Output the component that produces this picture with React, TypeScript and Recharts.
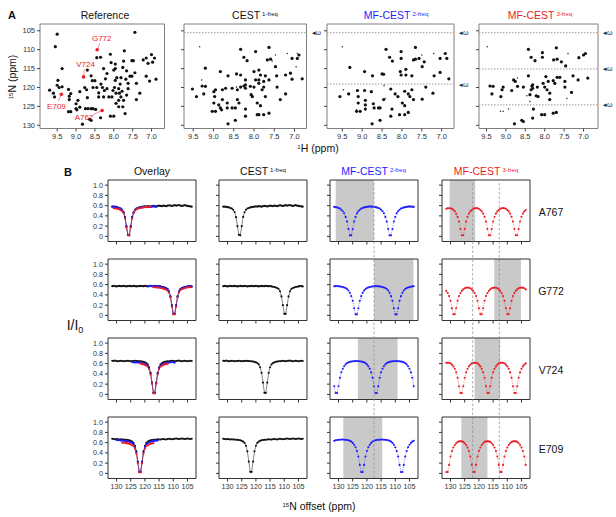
import React from 'react';
import {
  ScatterChart,
  Scatter,
  LineChart,
  Line,
  XAxis,
  YAxis,
  ReferenceArea,
  ReferenceLine,
  ReferenceDot
} from 'recharts';

// ---------- panel A: 1H-15N spectra (ppm) ----------
const REF_PEAKS = [
  [9.5, 105.9], [9.55, 109.2], [9.37, 115], [9.48, 118.1], [9.5, 119.4], [9.45, 120], [9.37, 119.8], [9.7, 120.7], [9.6, 121.5], [9.57, 122.5],
  [9.2, 120.5], [9.14, 121.6], [9.18, 122.3], [9.18, 123.2], [9.2, 126.4], [9.14, 126.4], [9.0, 125.6], [9.0, 124.3], [8.95, 123.4], [8.98, 125.9],
  [8.9, 125.2], [8.83, 129.7], [8.75, 125.6], [8.7, 122.7], [8.68, 125.6], [8.64, 128.4], [8.6, 128.7], [8.6, 125.6], [8.9, 121.1], [8.77, 120],
  [8.72, 120.6], [8.6, 116.9], [8.57, 118.2], [8.5, 118.2], [8.45, 112.1], [8.45, 120], [8.4, 121.4], [8.4, 122.5], [8.34, 119.1], [8.35, 128],
  [8.27, 122.5], [8.25, 120.8], [8.18, 120.3], [8.22, 117.7], [8.18, 116.3], [8.09, 111.2], [8.07, 113.4], [8.09, 127.6], [8.0, 127.6], [8.0, 115.4],
  [7.96, 115], [7.96, 118.1], [7.98, 120], [7.92, 117.4], [7.87, 120.3], [7.85, 121.5], [7.83, 119.1], [7.81, 117.4], [7.78, 121], [7.81, 122.5],
  [7.87, 123.4], [7.74, 123.4], [7.76, 125.1], [7.7, 126.9], [7.74, 113], [7.72, 110.3], [7.76, 114.7], [7.68, 117.8], [7.66, 115.6], [7.62, 120.3],
  [7.66, 122], [7.52, 112.9], [7.48, 112.9], [7.44, 105.4], [7.44, 116.1], [7.4, 118.9], [7.4, 123.2], [7.31, 121.5], [7.22, 112.7], [7.14, 112.2],
  [7.09, 113.6], [7.14, 117], [7.05, 118.3], [7.0, 111.3], [6.92, 112.2], [6.88, 117.8], [6.97, 113.3], [7.52, 117], [7.96, 113.8], [8.27, 115],
  [8.35, 112], [8.7, 115.4], [8.55, 120], [8.3, 120], [8.13, 122.5], [8.05, 122.5], [8.02, 120.8], [7.94, 121.5], [7.94, 124.2], [7.87, 125.1],
  [7.62, 118.9], [7.57, 117], [8.55, 125.6], [8.48, 125.8]
];
const HIT_NAMES = ['G772', 'V724', 'E709', 'A767'];
const HIT_PEAKS = [[8.44, 110], [8.8, 117.2], [9.39, 121.8], [8.31, 126.1]];
const HIT_LABEL_AT = [[8.32, 106.9], [8.75, 113.8], [9.52, 124.9], [8.79, 127.8]];
const HIT_LEADER_FROM = [[8.37, 108.3], [8.78, 115.2], [9.47, 123.6], [8.55, 127.2]];

const CEST_PEAKS = [
  [8.33, 109.9], [7.96, 110.5], [7.63, 109.4], [8.17, 112.9], [8.25, 112], [7.67, 112.7], [7.59, 112.5], [9.2, 114.9], [8.83, 115.8], [8.64, 116.9],
  [8.43, 116.4], [8.33, 116.7], [8.0, 115.8], [7.88, 115.4], [7.84, 116.7], [7.72, 116.9], [7.63, 118], [7.76, 118.4], [7.88, 118], [8.21, 118],
  [8.21, 119.3], [8.21, 120.2], [8.25, 119.6], [8.33, 119.9], [7.76, 119.9], [7.8, 120.6], [7.72, 122.4], [7.44, 116.9], [7.43, 119.9], [7.47, 114.5],
  [7.22, 116.7], [7.1, 116.2], [7.06, 117.8], [6.81, 117.7], [6.93, 112.3], [6.89, 111.4], [7.06, 112.3], [7.35, 123.2], [7.22, 121.7], [9.52, 120.4],
  [9.42, 122.4], [9.28, 119.6], [9.2, 119.7], [9.24, 121.7], [8.99, 121.1], [8.95, 120.6], [8.97, 122.4], [8.99, 124.1], [9.03, 126.3], [8.95, 126.3],
  [8.83, 125.4], [8.8, 125.9], [8.87, 124.6], [8.78, 123.2], [8.66, 124.1], [8.66, 125.4], [8.54, 125.4], [8.46, 125.4], [8.41, 123.2], [8.37, 124.1],
  [8.21, 125.7], [8.21, 127.6], [8.07, 121.9], [8.04, 122.4], [7.92, 124.1], [7.84, 124.8], [7.92, 127.2], [7.88, 127.2], [7.76, 127.2], [7.63, 126.8],
  [8.64, 129.6], [8.46, 128.7], [8.78, 120.6], [8.7, 120.2], [8.54, 120.2], [8.41, 120.6], [8.09, 119.7], [8.0, 119.9], [7.96, 118], [7.88, 118.9]
];
const CEST_WEAK = [[9.34, 109.2], [6.93, 111], [7.18, 111], [7.47, 111.4], [9.29, 118], [8.43, 119.9], [6.96, 114.5], [7.55, 113]];

const MF2_PEAKS = [
  [8.4, 109.9], [8.02, 110.5], [7.66, 109.4], [8.31, 112], [8.24, 113], [8.02, 112.3], [7.71, 112.7], [7.66, 112.5], [7.57, 112.3], [7.44, 113.2],
  [9.31, 114.7], [8.94, 115.8], [8.74, 116.9], [8.5, 116.4], [8.46, 116.5], [8.04, 115.8], [7.9, 115.2], [8.02, 116.7], [7.9, 116.7], [7.75, 116.9],
  [7.49, 114.5], [7.19, 116.9], [7.04, 116], [6.82, 117.7], [7.04, 112.3], [6.87, 112.3], [6.91, 111],
  [9.56, 122.4], [9.34, 121.7], [9.12, 120.8], [9.1, 122.4], [9.1, 124.1], [9.14, 126.3], [9.05, 126.3], [8.92, 125.7], [8.92, 123.4],
  [8.92, 124.6], [8.72, 124.3], [8.7, 125.4], [8.59, 125.4], [8.55, 125.4], [8.46, 123.2], [8.28, 120.4], [8.25, 125.7], [8.28, 127.6], [8.17, 121.7],
  [8.1, 122.4], [7.99, 124.1], [7.93, 124.8], [8.06, 127.2], [7.93, 127.2], [7.84, 126.6], [7.93, 121], [7.84, 121.7], [7.8, 122.4], [7.71, 123.2],
  [7.75, 120.6], [7.49, 123.1], [7.4, 119.9], [7.22, 121.5], [8.75, 129.6], [8.55, 128.7], [8.94, 120.8], [8.77, 121.1]
];
const MF2_WEAK = [[9.5, 109.2], [9.14, 125.9], [9.47, 120.6], [8.42, 122.9], [7.2, 111], [7.5, 111.4], [8.45, 119.5]];

const MF3_PEAKS = [
  [8.42, 109.9], [8.06, 110.8], [7.7, 109.5], [8.35, 112], [8.25, 112.9], [8.06, 112], [7.77, 112.7], [7.68, 112.5], [7.57, 113.2], [7.46, 114.3],
  [7.12, 112.1], [6.95, 111], [7.0, 111.4],
  [9.41, 119.6], [9.33, 119.7], [9.36, 121.7], [9.07, 119.9], [9.1, 120.6], [9.13, 122.4], [8.85, 120.8], [8.8, 118], [8.76, 118.4], [8.7, 119.7],
  [8.55, 119.9], [8.42, 116.9], [8.33, 119.6], [8.31, 119.3], [8.31, 120.2], [8.35, 120.6], [8.38, 121.9], [8.22, 122.2], [8.17, 122.4], [8.19, 119.9],
  [8.04, 118.9], [8.0, 119.9], [7.97, 117.1], [7.94, 120.6], [7.87, 121.5], [7.87, 123.2], [7.91, 118.4], [7.78, 118.2], [7.74, 118.9], [7.68, 117.3],
  [7.61, 117.3], [7.48, 118.4], [7.48, 119.9], [7.27, 116.9], [7.14, 118], [6.89, 117.5], [7.31, 121.3],
  [8.29, 125.7], [8.31, 128.1], [8.59, 128.7], [8.55, 129], [8.78, 129.6], [8.08, 127.2], [8.0, 127.2], [7.78, 126.8], [7.7, 126.6]
];
const MF3_WEAK = [[9.48, 109.2], [9.14, 126.3], [9.07, 126.3], [8.93, 125.7], [7.43, 122.9], [8.38, 123.7], [8.46, 122.2], [7.4, 111], [8.7, 117.5]];

const CEST_GUIDES = [105.5];
const MF2_GUIDES = [105.5, 119.1];
const MF3_GUIDES = [105.5, 115.1, 124.6];

const A_XTICKS = [9.5, 9.0, 8.5, 8.0, 7.5, 7.0];
const A_YTICKS = [105, 110, 115, 120, 125, 130];

// ---------- panel B: CEST profiles (I/I0 vs 15N offset) ----------
const _ = null;
const RESIDUES = ['A767', 'G772', 'V724', 'E709'];
const OFFSETS = [
  131.5, 131, 130.5, 130, 129.5, 129, 128.5, 128, 127.5, 127,
  126.5, 126, 125.5, 125, 124.5, 124, 123.5, 123, 122.5, 122,
  121.5, 121, 120.5, 120, 119.5, 119, 118.5, 118, 117.5, 117,
  116.5, 116, 115.5, 115, 114.5, 114, 113.5, 113, 112.5, 112,
  111.5, 111, 110.5, 110, 109.5, 109, 108.5, 108, 107.5, 107,
  106.5, 106, 105.5, 105, 104.5, 104, 103.5
];

const CEST_A767 = [
  .58, .58, .575, .57, .565, .555, .545, .52, .475, .375,
  .2, .03, .02, .2, .38, .47, .52, .545, .555, .565,
  .57, .575, .58, .585, .58, .59, .585, .58, .59, .595,
  .59, .585, .59, .6, .595, .59, .6, .595, .59, .6,
  .605, .6, .595, .6, .61, .6, .605, .61, .6, .595,
  .6, .61, .6, .595, .59, .585, .58
];
const OVL_BLUE_A767 = [
  .58, .575, .58, .57, .56, .55, .54, .515, .465, .365,
  .19, .03, .03, .19, .37, .46, .515, .54, .55, .56,
  .565, .57, .575, .58, .575, .58, .58, .575, .58, .585,
  .58, .58, _, _, _, _, _, _, _, _,
  _, _, _, _, _, _, _, _, _, _,
  _, _, _, _, _, _, _
];
const OVL_RED_A767 = [
  _, .55, .545, .54, .535, .525, .51, .49, .45, .35,
  .17, .02, .02, .17, .35, .45, .5, .525, .54, .55,
  .555, .56, .565, .57, .57, .575, .58, .58, _, _,
  _, _, _, _, _, _, _, _, _, _,
  _, _, _, _, _, _, _, _, _, _,
  _, _, _, _, _, _, _
];
const MF2_A767 = [
  .575, .57, .565, .555, .545, .52, .49, .45, .38, .29,
  .145, .02, .02, .145, .29, .38, .45, .49, .52, .545,
  .555, .565, .57, .575, .58, .585, .58, .58, .575, .57,
  .565, .555, .545, .52, .49, .45, .38, .29, .145, .02,
  .02, .145, .29, .38, .45, .49, .52, .545, .555, .565,
  .57, .575, .58, .585, .58, .58, .575
];
const MF3_A767 = [
  .54, .55, .55, .55, .54, .52, .49, .44, .38, .29,
  .145, .023, .023, .145, .29, .383, .444, .487, .516, .539,
  .549, .551, .549, .539, .516, .487, .444, .383, .29, .145,
  .023, .023, .145, .29, .383, .444, .487, .516, .539, .549,
  .551, .549, .539, .516, .487, .444, .383, .29, .145, .023,
  .023, .145, .29, .383, .444, .487, .516
];

const CEST_G772 = [
  .57, .575, .57, .565, .57, .575, .57, .57, .575, .57,
  .565, .57, .575, .57, .57, .575, .57, .565, .57, .57,
  .575, .57, .57, .575, .57, .565, .57, .575, .57, .57,
  .575, .57, .57, .57, .565, .56, .555, .545, .535, .515,
  .47, .37, .2, .03, .03, .2, .37, .47, .515, .535,
  .545, .555, .56, .565, .57, .57, .565
];
const OVL_BLUE_G772 = [
  _, _, _, _, _, _, _, _, _, _,
  _, _, _, _, _, _, _, _, _, _,
  _, _, _, _, _, .575, .57, .575, .57, .565,
  .57, .565, .57, .565, .56, .555, .55, .54, .53, .51,
  .465, .365, .19, .03, .03, .19, .365, .465, .51, .53,
  .54, .55, .555, .56, .565, .565, .56
];
const OVL_RED_G772 = [
  _, _, _, _, _, _, _, _, _, _,
  _, _, _, _, _, _, _, _, _, _,
  _, _, _, _, _, _, _, _, _, .55,
  .55, .545, .545, .54, .535, .53, .52, .51, .5, .48,
  .44, .35, .17, .02, .02, .17, .35, .44, .49, .51,
  .52, .53, .54, .545, .55, .55, _
];
const MF2_G772 = [
  .567, .57, .57, .567, .565, .56, .555, .545, .535, .515,
  .485, .44, .375, .285, .14, .02, .02, .14, .285, .375,
  .44, .485, .515, .535, .545, .555, .56, .565, .567, .57,
  .57, .567, .565, .56, .555, .545, .535, .515, .485, .44,
  .375, .285, .14, .02, .02, .14, .285, .375, .44, .485,
  .515, .535, .545, .555, .56, .565, .567
];
const MF3_G772 = [
  .479, .437, .376, .285, .14, .023, .023, .14, .285, .376,
  .437, .479, .507, .53, .539, .542, .539, .53, .507, .479,
  .437, .376, .285, .14, .023, .023, .14, .285, .376, .437,
  .479, .507, .53, .539, .542, .539, .53, .507, .479, .437,
  .376, .285, .14, .023, .023, .14, .285, .376, .437, .479,
  .507, .53, .539, .542, .539, .53, .507
];

const CEST_V724 = [
  .655, .65, .66, .65, .645, .65, .655, .65, .645, .65,
  .65, .655, .65, .645, .65, .65, .655, .65, .65, .645,
  .645, .64, .635, .625, .61, .585, .53, .42, .23, .03,
  .03, .23, .42, .53, .585, .61, .625, .635, .64, .645,
  .645, .65, .655, .65, .645, .65, .655, .66, .65, .645,
  .65, .655, .65, .645, .65, .655, .65
];
const OVL_BLUE_V724 = [
  _, _, _, _, _, _, _, _, _, _,
  _, _, _, _, .63, .625, .62, .625, .62, .62,
  .615, .61, .6, .595, .58, .56, .51, .4, .22, .03,
  .03, .22, .4, .51, .56, .58, .595, .6, .61, .615,
  .62, .625, .63, .625, .62, _, _, _, _, _,
  _, _, _, _, _, _, _
];
const OVL_RED_V724 = [
  _, _, _, _, _, _, _, _, _, _,
  _, _, _, _, _, _, _, _, _, _,
  .6, .59, .585, .575, .56, .54, .49, .39, .21, .02,
  .02, .21, .39, .49, .54, .56, .575, .585, .59, .6,
  _, _, _, _, _, _, _, _, _, _,
  _, _, _, _, _, _, _
];
const MF2_V724 = [
  .16, .026, .026, .16, .325, .43, .5, .55, .585, .61,
  .625, .635, .64, .645, .647, .65, .65, .647, .645, .64,
  .635, .625, .61, .585, .55, .5, .43, .325, .16, .026,
  .026, .16, .325, .43, .5, .55, .585, .61, .625, .635,
  .64, .645, .647, .65, .65, .647, .645, .64, .635, .625,
  .61, .585, .55, .5, .43, .325, .16
];
const MF3_V724 = [
  .615, .618, .615, .605, .58, .546, .5, .43, .325, .16,
  .026, .026, .16, .325, .43, .5, .546, .58, .605, .615,
  .618, .615, .605, .58, .546, .5, .43, .325, .16, .026,
  .026, .16, .325, .43, .5, .546, .58, .605, .615, .618,
  .615, .605, .58, .546, .5, .43, .325, .16, .026, .026,
  .16, .325, .43, .5, .546, .58, .605
];

const CEST_E709 = [
  .675, .67, .665, .67, .665, .66, .665, .66, .66, .655,
  .655, .65, .645, .635, .62, .595, .54, .43, .23, .03,
  .03, .23, .43, .54, .595, .62, .635, .645, .65, .655,
  .655, .66, .665, .66, .66, .665, .67, .665, .66, .67,
  .675, .67, .665, .67, .675, .68, .675, .67, .675, .68,
  .675, .67, .675, .68, .675, .67, .675
];
const OVL_BLUE_E709 = [
  _, _, _, .65, .645, .645, .64, .64, .635, .63,
  .625, .62, .615, .605, .59, .565, .515, .41, .22, .03,
  .03, .22, .41, .515, .565, .59, .605, .615, .625, .63,
  .635, .64, .64, _, _, _, _, _, _, _,
  _, _, _, _, _, _, _, _, _, _,
  _, _, _, _, _, _, _
];
const OVL_RED_E709 = [
  _, _, _, _, _, _, _, .6, .6, .595,
  .59, .585, .575, .565, .55, .53, .48, .38, .2, .02,
  .02, .2, .38, .48, .53, .55, .565, .575, .585, .59,
  _, _, _, _, _, _, _, _, _, _,
  _, _, _, _, _, _, _, _, _, _,
  _, _, _, _, _, _, _
];
const MF2_E709 = [
  .635, .645, .65, .655, .657, .66, .66, .657, .655, .65,
  .645, .635, .62, .595, .56, .51, .435, .33, .165, .026,
  .026, .165, .33, .435, .51, .56, .595, .62, .635, .645,
  .65, .655, .657, .66, .66, .657, .655, .65, .645, .635,
  .62, .595, .56, .51, .435, .33, .165, .026, .026, .165,
  .33, .435, .51, .56, .595, .62, .635
];
const MF3_E709 = [
  .026, .026, .165, .33, .435, .505, .555, .587, .614, .624,
  .627, .624, .614, .587, .555, .505, .435, .33, .165, .026,
  .026, .165, .33, .435, .505, .555, .587, .614, .624, .627,
  .624, .614, .587, .555, .505, .435, .33, .165, .026, .026,
  .165, .33, .435, .505, .555, .587, .614, .624, .627, .624,
  .614, .587, .555, .505, .435, .33, .165
];

const CEST_1 = [CEST_A767, CEST_G772, CEST_V724, CEST_E709];
const OVL_BLUE = [OVL_BLUE_A767, OVL_BLUE_G772, OVL_BLUE_V724, OVL_BLUE_E709];
const OVL_RED = [OVL_RED_A767, OVL_RED_G772, OVL_RED_V724, OVL_RED_E709];
const MF2 = [MF2_A767, MF2_G772, MF2_V724, MF2_E709];
const MF3 = [MF3_A767, MF3_G772, MF3_V724, MF3_E709];

// windows swept by the first irradiation frequency
const MF2_SHADE = [[117.5, 131], [103.6, 117.5], [109.2, 123.2], [114.6, 128.3]];
const MF3_SHADE = [[121.3, 130.3], [105.2, 114.6], [112.5, 121.5], [117, 126.2]];
const MF2_DASH = [117.5];
const MF3_DASH = [122.2, 112.8];

const B_XTICKS = [130, 125, 120, 115, 110, 105];
const B_YTICKS = [0, 0.2, 0.4, 0.6, 0.8, 1.0];

// ---------- styling / layout ----------
const FONT = '"Liberation Sans", Arial, Helvetica, sans-serif';
const BLUE = '#1d1dff';
const RED = '#ec1c24';
const INK = '#111';

const A_TOP = 24;
const A_H = 104.5;
const A_YDOMAIN = [103.2, 130.85];
const A_YW = 24;
const A_XH = 16;
const A_RM = 20;

const B_W = 88;
const B_H = 61.5;
const B_YW = 22;
const B_XH = 14;
const B_XDOMAIN = [102, 133];
const B_YDOMAIN = [-0.1, 1.1];
const COL_LEFT = [108, 219, 329.5, 442];
const ROW_TOP = [180, 259, 338, 416.5];

const toXY = (pts: number[][]) => pts.map(([x, y]) => ({ x, y }));
const profile = (vals: (number | null)[]) =>
  OFFSETS.map((x, i) => ({ x, y: vals[i] })).filter((d) => d.y != null);

const dotShape = (r: number, color: string) => (p: any) =>
  <circle cx={p.cx} cy={p.cy} r={r} fill={color} />;

const Txt = ({ x, y, size = 10.5, color = INK, bold = false, rotate = 0, children }: any) => (
  <div
    style={{
      position: 'absolute',
      left: x,
      top: y,
      transform: `translate(-50%, -50%) rotate(${rotate}deg)`,
      fontSize: size,
      color,
      fontWeight: bold ? 700 : 400,
      whiteSpace: 'nowrap',
      lineHeight: 1
    }}
  >
    {children}
  </div>
);

const Sup = ({ children }: any) => (
  <span style={{ fontSize: '0.58em', position: 'relative', top: '-0.55em', marginLeft: 2 }}>{children}</span>
);

interface NmrProps {
  left: number;
  width: number;
  xDomain: number[];
  peaks: number[][];
  weak?: number[][];
  guides?: number[];
  hits?: boolean;
  yLabels?: boolean;
}

const NmrPanel: React.FC<NmrProps> = ({ left, width, xDomain, peaks, weak = [], guides = [], hits, yLabels }) => (
  <div style={{ position: 'absolute', left: left - A_YW - 2, top: A_TOP - 2 }}>
    <ScatterChart
      width={2 + A_YW + width + A_RM}
      height={2 + A_H + A_XH + 2}
      margin={{ top: 2, right: A_RM, bottom: 2, left: 2 }}
    >
      <XAxis
        type="number"
        dataKey="x"
        domain={xDomain}
        reversed
        allowDataOverflow
        ticks={A_XTICKS}
        interval={0}
        height={A_XH}
        tickSize={3}
        axisLine={false}
        tickLine={{ stroke: '#444' }}
        tick={{ fontSize: 7.5, fill: '#333' }}
        tickFormatter={(v: number) => v.toFixed(1)}
      />
      <YAxis
        type="number"
        dataKey="y"
        domain={A_YDOMAIN}
        reversed
        allowDataOverflow
        ticks={A_YTICKS}
        interval={0}
        width={A_YW}
        tickSize={3}
        axisLine={false}
        tickLine={{ stroke: '#444' }}
        tick={{ fontSize: 7.5, fill: '#333' }}
        tickFormatter={(v: number) => (yLabels ? String(v) : '')}
      />
      {guides.map((g) => (
        <ReferenceLine
          key={g}
          y={g}
          stroke="#999"
          strokeDasharray="1.5 1.5"
          label={{ value: '◂ω', position: 'right', fontSize: 7, fill: '#222' }}
        />
      ))}
      <Scatter data={toXY(weak)} shape={dotShape(0.8, '#333')} isAnimationActive={false} />
      <Scatter data={toXY(peaks)} shape={dotShape(1.6, INK)} isAnimationActive={false} />
      {hits && <Scatter data={toXY(HIT_PEAKS)} shape={dotShape(1.8, RED)} isAnimationActive={false} />}
      {hits &&
        HIT_NAMES.map((name, i) => (
          <ReferenceLine
            key={'l' + name}
            segment={[
              { x: HIT_LEADER_FROM[i][0], y: HIT_LEADER_FROM[i][1] },
              { x: HIT_PEAKS[i][0], y: HIT_PEAKS[i][1] }
            ]}
            stroke={RED}
            strokeWidth={0.5}
          />
        ))}
      {hits &&
        HIT_NAMES.map((name, i) => (
          <ReferenceDot
            key={name}
            x={HIT_LABEL_AT[i][0]}
            y={HIT_LABEL_AT[i][1]}
            r={0.01}
            fill="none"
            stroke="none"
            label={{ value: name, position: 'center', fill: RED, fontSize: 8 }}
          />
        ))}
      <ReferenceArea
        x1={xDomain[0]}
        x2={xDomain[1]}
        y1={A_YDOMAIN[0]}
        y2={A_YDOMAIN[1]}
        fill="none"
        stroke="#808080"
        strokeWidth={1}
        ifOverflow="visible"
      />
    </ScatterChart>
  </div>
);

interface Series {
  values: (number | null)[];
  color: string;
  dashed?: boolean;
}

interface CestProps {
  left: number;
  top: number;
  series: Series[];
  shade?: number[];
  xLabels?: boolean;
  yLabels?: boolean;
}

const CestPanel: React.FC<CestProps> = ({ left, top, series, shade, xLabels, yLabels }) => (
  <div style={{ position: 'absolute', left: left - B_YW - 2, top: top - 2 }}>
    <LineChart
      width={2 + B_YW + B_W + 2}
      height={2 + B_H + B_XH + 2}
      margin={{ top: 2, right: 2, bottom: 2, left: 2 }}
    >
      <XAxis
        type="number"
        dataKey="x"
        domain={B_XDOMAIN}
        reversed
        allowDataOverflow
        ticks={B_XTICKS}
        interval={0}
        height={B_XH}
        tickSize={3}
        axisLine={false}
        tickLine={{ stroke: '#333' }}
        tick={{ fontSize: 7.2, fill: '#333' }}
        tickFormatter={(v: number) => (xLabels ? String(v) : '')}
      />
      <YAxis
        type="number"
        domain={B_YDOMAIN}
        allowDataOverflow
        ticks={B_YTICKS}
        interval={0}
        width={B_YW}
        tickSize={3}
        axisLine={false}
        tickLine={{ stroke: '#333' }}
        tick={{ fontSize: 7.2, fill: '#333' }}
        tickFormatter={(v: number) => (yLabels ? (v === 0 ? '0' : v.toFixed(1)) : '')}
      />
      {shade && (
        <ReferenceArea
          x1={shade[0]}
          x2={shade[1]}
          y1={B_YDOMAIN[0]}
          y2={B_YDOMAIN[1]}
          fill="#c9c9c9"
          fillOpacity={1}
          stroke="none"
        />
      )}
      {series.map((s, i) => (
        <Line
          key={i}
          data={profile(s.values)}
          dataKey="y"
          type="linear"
          stroke={s.color}
          strokeWidth={0.5}
          strokeDasharray={s.dashed ? '1.2 1.2' : undefined}
          dot={{ r: 1.05, fill: s.color, stroke: 'none' }}
          activeDot={false}
          isAnimationActive={false}
        />
      ))}
      <ReferenceArea
        x1={B_XDOMAIN[0]}
        x2={B_XDOMAIN[1]}
        y1={B_YDOMAIN[0]}
        y2={B_YDOMAIN[1]}
        fill="none"
        stroke="#333"
        strokeWidth={1}
        ifOverflow="visible"
      />
    </LineChart>
  </div>
);

// dashed guides that run through a whole column of panel B
const GUIDE_SPAN = [{ x: B_XDOMAIN[0], y: 0 }, { x: B_XDOMAIN[1], y: 1 }];

const GuideColumn: React.FC<{ left: number; lines: number[] }> = ({ left, lines }) => {
  const h = ROW_TOP[3] + B_H - ROW_TOP[0];
  return (
    <div style={{ position: 'absolute', left: left - 2, top: ROW_TOP[0] - 2, pointerEvents: 'none' }}>
      <LineChart width={B_W + 4} height={h + 4} margin={{ top: 2, right: 2, bottom: 2, left: 2 }} data={GUIDE_SPAN}>
        <XAxis type="number" dataKey="x" domain={B_XDOMAIN} reversed allowDataOverflow hide />
        <YAxis type="number" domain={[0, 1]} hide />
        <Line dataKey="y" stroke="none" dot={false} activeDot={false} isAnimationActive={false} />
        {lines.map((g) => (
          <ReferenceLine key={g} x={g} stroke="#8a8a8a" strokeWidth={0.7} strokeDasharray="2.5 2" />
        ))}
      </LineChart>
    </div>
  );
};

const App: React.FC = () => (
  <div
    style={{
      position: 'absolute',
      left: 0,
      top: 0,
      width: 616,
      height: 517,
      background: '#fff',
      overflow: 'hidden',
      fontFamily: FONT,
      color: INK
    }}
  >
    {/* ---- panel A ---- */}
    <Txt x={12} y={15} size={11} bold>A</Txt>
    <Txt x={105} y={15} size={10.5}>Reference</Txt>
    <Txt x={255} y={15} size={10.5}>CEST<Sup>1-freq</Sup></Txt>
    <Txt x={396} y={15} size={10.5} color={BLUE}>MF-CEST<Sup>2-freq</Sup></Txt>
    <Txt x={540} y={15} size={10.5} color={RED}>MF-CEST<Sup>3-freq</Sup></Txt>
    <Txt x={12} y={78} size={10.5} rotate={-90}><Sup>15</Sup>N (ppm)</Txt>
    <Txt x={317} y={148} size={10.5}><Sup>1</Sup>H (ppm)</Txt>

    <NmrPanel left={39.5} width={124.5} xDomain={[6.655, 9.956]} peaks={REF_PEAKS} hits yLabels />
    <NmrPanel left={183.5} width={122.5} xDomain={[6.704, 9.727]} peaks={CEST_PEAKS} weak={CEST_WEAK} guides={CEST_GUIDES} />
    <NmrPanel left={327} width={127} xDomain={[6.69, 9.885]} peaks={MF2_PEAKS} weak={MF2_WEAK} guides={MF2_GUIDES} />
    <NmrPanel left={478.5} width={119} xDomain={[6.627, 9.693]} peaks={MF3_PEAKS} weak={MF3_WEAK} guides={MF3_GUIDES} />

    {/* ---- panel B ---- */}
    <Txt x={68} y={172} size={11} bold>B</Txt>
    <Txt x={COL_LEFT[0] + B_W / 2} y={171} size={10.5}>Overlay</Txt>
    <Txt x={COL_LEFT[1] + B_W / 2} y={171} size={10.5}>CEST<Sup>1-freq</Sup></Txt>
    <Txt x={COL_LEFT[2] + B_W / 2} y={171} size={10.5} color={BLUE}>MF-CEST<Sup>2-freq</Sup></Txt>
    <Txt x={COL_LEFT[3] + B_W / 2} y={171} size={10.5} color={RED}>MF-CEST<Sup>3-freq</Sup></Txt>
    <Txt x={75} y={325} size={14}>I/I<span style={{ fontSize: '0.65em', position: 'relative', top: '0.35em' }}>0</span></Txt>
    <Txt x={318} y={506} size={10.5}><Sup>15</Sup>N offset (ppm)</Txt>

    {RESIDUES.map((name, i) => (
      <React.Fragment key={name}>
        <CestPanel
          left={COL_LEFT[0]}
          top={ROW_TOP[i]}
          series={[
            { values: CEST_1[i], color: INK },
            { values: OVL_BLUE[i], color: BLUE },
            { values: OVL_RED[i], color: RED }
          ]}
          yLabels
          xLabels={i === 3}
        />
        <CestPanel left={COL_LEFT[1]} top={ROW_TOP[i]} series={[{ values: CEST_1[i], color: INK }]} xLabels={i === 3} />
        <CestPanel
          left={COL_LEFT[2]}
          top={ROW_TOP[i]}
          series={[{ values: MF2[i], color: BLUE, dashed: true }]}
          shade={MF2_SHADE[i]}
          xLabels={i === 3}
        />
        <CestPanel
          left={COL_LEFT[3]}
          top={ROW_TOP[i]}
          series={[{ values: MF3[i], color: RED, dashed: true }]}
          shade={MF3_SHADE[i]}
          xLabels={i === 3}
        />
        <Txt x={551} y={ROW_TOP[i] + 32} size={10.5}>{name}</Txt>
      </React.Fragment>
    ))}
    <GuideColumn left={COL_LEFT[2]} lines={MF2_DASH} />
    <GuideColumn left={COL_LEFT[3]} lines={MF3_DASH} />
  </div>
);

export default App;
